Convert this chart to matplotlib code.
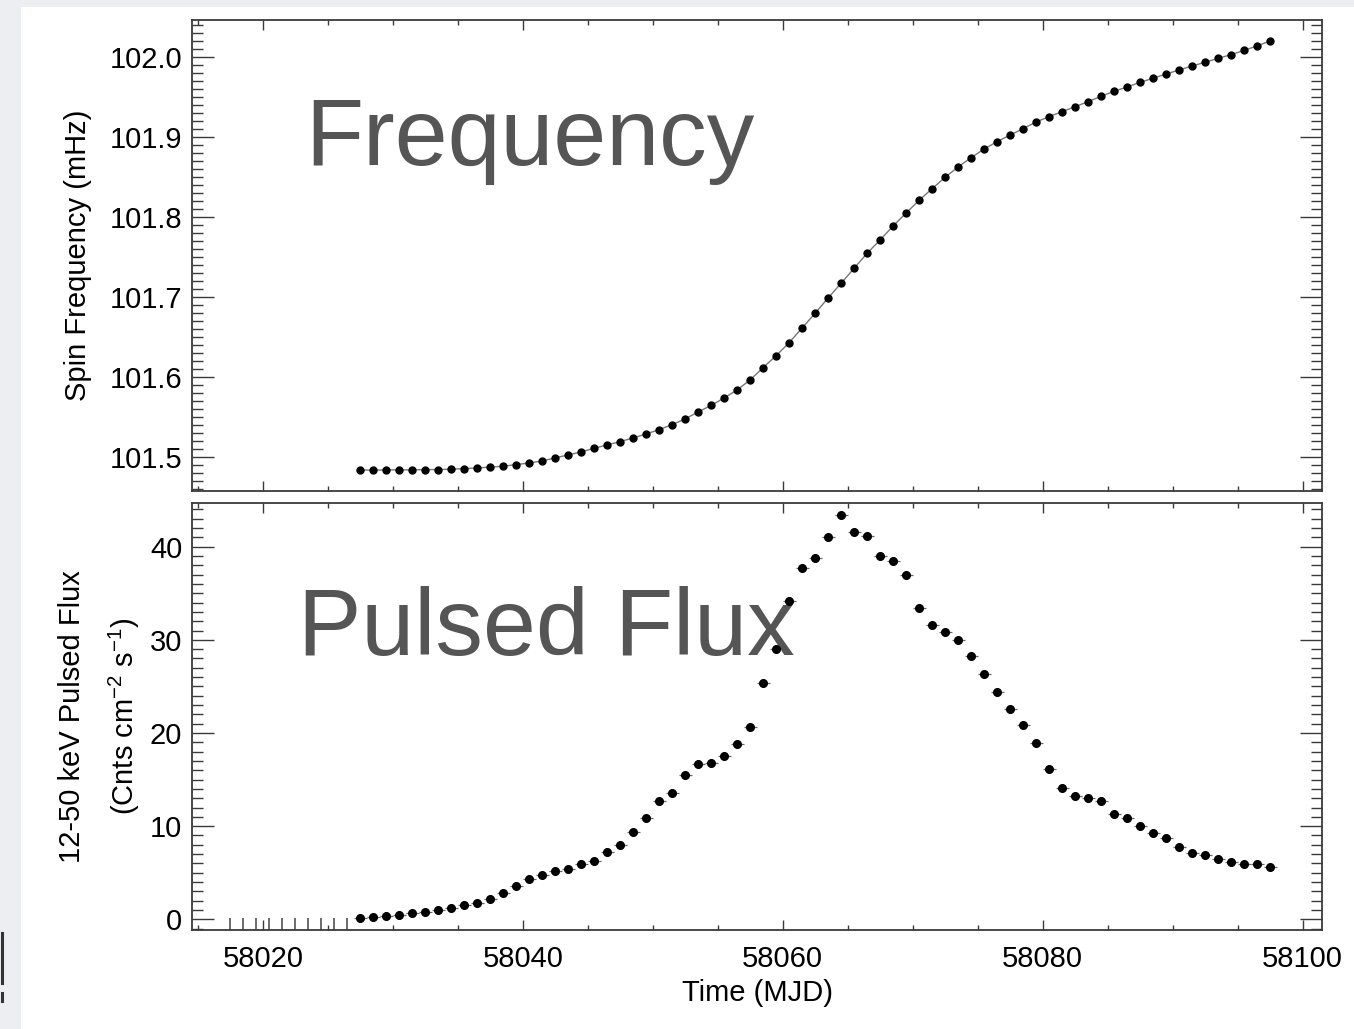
import matplotlib
matplotlib.use("Agg")
import matplotlib.pyplot as plt
from matplotlib.patches import Rectangle
from matplotlib.lines import Line2D
from matplotlib.ticker import MultipleLocator
import numpy as np

plt.rcParams['font.family'] = ['Liberation Sans', 'DejaVu Sans']
plt.rcParams['mathtext.fontset'] = 'custom'
plt.rcParams['mathtext.rm'] = 'Liberation Sans'
plt.rcParams['mathtext.default'] = 'regular'

# daily GBM measurements (MJD)
mjd = [58027.5, 58028.5, 58029.5, 58030.5, 58031.5, 58032.5, 58033.5, 58034.5,
       58035.5, 58036.5, 58037.5, 58038.5, 58039.5, 58040.5, 58041.5, 58042.5,
       58043.5, 58044.5, 58045.5, 58046.5, 58047.5, 58048.5, 58049.5, 58050.5,
       58051.5, 58052.5, 58053.5, 58054.5, 58055.5, 58056.5, 58057.5, 58058.5,
       58059.5, 58060.5, 58061.5, 58062.5, 58063.5, 58064.5, 58065.5, 58066.5,
       58067.5, 58068.5, 58069.5, 58070.5, 58071.5, 58072.5, 58073.5, 58074.5,
       58075.5, 58076.5, 58077.5, 58078.5, 58079.5, 58080.5, 58081.5, 58082.5,
       58083.5, 58084.5, 58085.5, 58086.5, 58087.5, 58088.5, 58089.5, 58090.5,
       58091.5, 58092.5, 58093.5, 58094.5, 58095.5, 58096.5, 58097.5]

# spin frequency (mHz)
freq = [101.4834, 101.4830, 101.4834, 101.4834, 101.4834, 101.4838, 101.4838, 101.4843,
        101.4850, 101.4859, 101.4868, 101.4880, 101.4900, 101.4921, 101.4946, 101.4984,
        101.5021, 101.5059, 101.5105, 101.5146, 101.5188, 101.5234, 101.5284, 101.5338,
        101.5400, 101.5471, 101.5559, 101.5640, 101.5734, 101.5834, 101.5959, 101.6113,
        101.6263, 101.6425, 101.6609, 101.6793, 101.6984, 101.7168, 101.7355, 101.7543,
        101.7709, 101.7884, 101.8046, 101.8205, 101.8350, 101.8493, 101.8621, 101.8738,
        101.8846, 101.8938, 101.9021, 101.9100, 101.9184, 101.9250, 101.9313, 101.9375,
        101.9438, 101.9505, 101.9568, 101.9621, 101.9680, 101.9730, 101.9784, 101.9834,
        101.9884, 101.9930, 101.9980, 102.0025, 102.0080, 102.0134, 102.0196]

# 12-50 keV pulsed flux
flux = [0.17, 0.21, 0.32, 0.43, 0.64, 0.78, 1.03, 1.25, 1.50, 1.75, 2.21, 2.86,
        3.61, 4.33, 4.79, 5.22, 5.40, 5.90, 6.29, 7.23, 8.01, 9.34, 10.91, 12.70,
        13.59, 15.49, 16.67, 16.81, 17.56, 18.82, 20.68, 25.37, 28.99, 34.14, 37.75, 38.82,
        41.07, 43.37, 41.55, 41.12, 39.03, 38.50, 36.93, 33.39, 31.63, 30.84, 29.98, 28.23,
        26.37, 24.37, 22.58, 20.83, 18.96, 16.14, 14.10, 13.20, 13.05, 12.73, 11.30, 10.84,
        10.05, 9.26, 8.73, 7.76, 7.15, 6.94, 6.51, 6.15, 5.90, 5.97, 5.65]

# days without a pulsed detection
nodet_mjd = [58017.5, 58018.5, 58019.5, 58020.5, 58021.5,
             58022.5, 58023.5, 58024.5, 58025.5, 58026.5]

W, H = 1354, 1029
fig = plt.figure(figsize=(W / 100, H / 100), dpi=100, facecolor='#edeef1')
fig.add_artist(Rectangle((21 / W, 0), 1 - 21 / W, 1 - 7 / H, transform=fig.transFigure,
                         facecolor='white', edgecolor='none', zorder=0))
fig.add_artist(Line2D([0.0012, 0.0012], [0.045, 0.093], transform=fig.transFigure,
                      color='#333333', lw=2.2))
fig.add_artist(Line2D([0.0012, 0.0012], [0.027, 0.035], transform=fig.transFigure,
                      color='#333333', lw=2.2))

ax1 = fig.add_axes([192 / W, 1 - 491 / H, 1130 / W, 471 / H])
ax2 = fig.add_axes([192 / W, 1 - 930 / H, 1130 / W, 427.3 / H])

xlim = (58014.55, 58101.5)
spine_col = '#3a3a3a'

for ax in (ax1, ax2):
    ax.set_xlim(*xlim)
    ax.xaxis.set_major_locator(MultipleLocator(20))
    ax.xaxis.set_minor_locator(MultipleLocator(5))
    ax.tick_params(axis='both', which='both', direction='in', top=True, right=True,
                   colors=spine_col, labelcolor='black', width=1.0, labelsize=21)
    ax.tick_params(axis='x', which='major', length=7, pad=11)
    ax.tick_params(axis='x', which='minor', length=3.5)
    ax.tick_params(axis='y', which='major', length=16, pad=7)
    ax.tick_params(axis='y', which='minor', length=8)
    for sp in ax.spines.values():
        sp.set_color(spine_col)
        sp.set_linewidth(1.3)

# frequency panel
ax1.plot(mjd, freq, '-', color='#777777', lw=1.0, zorder=2)
ax1.plot(mjd, freq, 'o', color='black', ms=5, zorder=3)
ax1.set_ylim(101.457, 102.0459)
ax1.yaxis.set_major_locator(MultipleLocator(0.1))
ax1.yaxis.set_minor_locator(MultipleLocator(0.01))
ax1.yaxis.set_major_formatter(matplotlib.ticker.FormatStrFormatter('%.1f'))
ax1.tick_params(axis='x', labelbottom=False)
ax1.set_ylabel('Spin Frequency (mHz)', fontsize=21, labelpad=13)
ax1.text(0.100, 0.692, 'Frequency', transform=ax1.transAxes, fontsize=68.5,
         color='#555555', va='baseline', ha='left')

# pulsed flux panel
ax2.errorbar(mjd, flux, xerr=0.5, yerr=0.25, fmt='o', color='black', ms=5.5,
             ecolor='#666666', elinewidth=0.9, capsize=0, zorder=3)
ax2.vlines(nodet_mjd, -1.2, 0.15, color='#444444', lw=1.1)
ax2.set_ylim(-1.15, 44.72)
ax2.yaxis.set_major_locator(MultipleLocator(10))
ax2.yaxis.set_minor_locator(MultipleLocator(1))
ax2.set_ylabel('12-50 keV Pulsed Flux\n(Cnts cm$^{-2}$ s$^{-1}$)', fontsize=21,
               labelpad=6, linespacing=1.75)
ax2.set_xlabel('Time (MJD)', fontsize=21, labelpad=4)
ax2.text(0.0938, 0.6436, 'Pulsed Flux', transform=ax2.transAxes, fontsize=68.5,
         color='#555555', va='baseline', ha='left')

fig.savefig('out.png', dpi=100, facecolor=fig.get_facecolor())
